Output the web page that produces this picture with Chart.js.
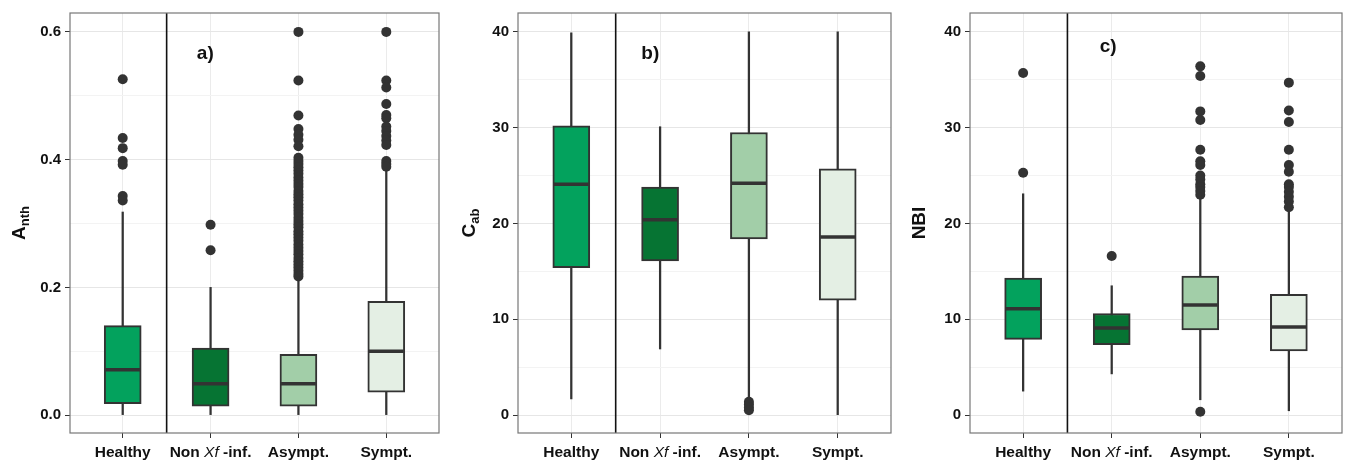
<!DOCTYPE html>
<html>
<head>
<meta charset="utf-8">
<script src="https://cdn.jsdelivr.net/npm/chart.js@4.4.1/dist/chart.umd.min.js"></script>
<style>
  body { margin: 0; background: #fff; width: 1346px; height: 460px; position: relative; overflow: hidden; }
  canvas { position: absolute; top: 0; }
</style>
</head>
<body>
<canvas id="cA" width="450" height="460" style="left:0px"></canvas>
<canvas id="cB" width="450" height="460" style="left:450px"></canvas>
<canvas id="cC" width="446" height="460" style="left:900px"></canvas>
<script>
// groups (x positions 1..4)
const categories = ['Healthy', 'Non Xf-inf.', 'Asympt.', 'Sympt.'];
const boxColors = ['#03a25d', '#067433', '#a2cea8', '#e4efe4'];

// a) Anthocyanins
const anthLow = [0, 0, 0, 0];
const anthQ1 = [0.018, 0.014, 0.014, 0.036];
const anthMedian = [0.071, 0.049, 0.049, 0.100];
const anthQ3 = [0.140, 0.105, 0.095, 0.178];
const anthHigh = [0.318, 0.200, 0.216, 0.384];
const anthOutliers = [
  [0.526, 0.434, 0.418, 0.398, 0.392, 0.343, 0.336],
  [0.298, 0.258],
  [0.600, 0.524, 0.469, 0.448, 0.439, 0.431, 0.421, 0.403, 0.398, 0.393, 0.388, 0.383,
   0.378, 0.372, 0.367, 0.362, 0.357, 0.351, 0.346, 0.341, 0.336, 0.330, 0.325, 0.320,
   0.315, 0.309, 0.304, 0.299, 0.294, 0.288, 0.283, 0.278, 0.273, 0.267, 0.262, 0.257,
   0.252, 0.246, 0.241, 0.236, 0.231, 0.226, 0.221, 0.217],
  [0.600, 0.524, 0.513, 0.487, 0.470, 0.465, 0.452, 0.445, 0.437, 0.430, 0.423, 0.398, 0.393, 0.389]
];
const anthTicks = [0, 0.1, 0.2, 0.3, 0.4, 0.5, 0.6];

// b) Chlorophyll
const cabLow = [1.7, 6.9, 1.8, 0];
const cabQ1 = [15.4, 16.1, 18.4, 12.0];
const cabMedian = [24.1, 20.4, 24.2, 18.6];
const cabQ3 = [30.2, 23.8, 29.5, 25.7];
const cabHigh = [39.9, 30.1, 40, 40];
const cabOutliers = [[], [], [1.4, 1.1, 0.8, 0.5], []];
const cabTicks = [0, 5, 10, 15, 20, 25, 30, 35, 40];

// c) NBI
const nbiLow = [2.5, 4.3, 1.6, 0.45];
const nbiQ1 = [7.9, 7.35, 8.9, 6.7];
const nbiMedian = [11.1, 9.1, 11.5, 9.2];
const nbiQ3 = [14.3, 10.6, 14.5, 12.6];
const nbiHigh = [23.1, 13.5, 23.2, 22.0];
const nbiOutliers = [
  [35.7, 25.3],
  [16.6],
  [36.4, 35.4, 31.7, 30.8, 27.7, 26.5, 26.1, 25.0, 24.6, 24.1, 23.8, 23.4, 23.0, 0.35],
  [34.7, 31.8, 30.6, 27.7, 26.1, 25.4, 24.1, 23.8, 23.3, 22.8, 22.3, 21.7]
];
const nbiTicks = [0, 5, 10, 15, 20, 25, 30, 35, 40];

const FONT = '"Liberation Sans", Arial, sans-serif';
const INK = '#333333';

// draws frame, separator, panel letter, y title and x labels
const panelDecor = {
  id: 'panelDecor',
  afterDraw(chart, args, opts) {
    const ctx = chart.ctx;
    const area = chart.chartArea;
    const xs = chart.scales.x, ys = chart.scales.y;
    ctx.save();
    // separator between healthy and the rest
    const sx = xs.getPixelForValue(1.5);
    ctx.strokeStyle = '#111';
    ctx.lineWidth = 1.6;
    ctx.beginPath();
    ctx.moveTo(sx, area.top);
    ctx.lineTo(sx, area.bottom);
    ctx.stroke();
    // frame
    ctx.strokeStyle = '#777';
    ctx.lineWidth = 1.2;
    ctx.strokeRect(area.left, area.top, area.right - area.left, area.bottom - area.top);
    // panel letter
    ctx.fillStyle = '#111';
    ctx.font = 'bold 19px ' + FONT;
    ctx.textAlign = 'center';
    ctx.textBaseline = 'middle';
    ctx.fillText(opts.letter, xs.getPixelForValue(opts.letterX), ys.getPixelForValue(opts.letterY));
    // x category labels
    const ly = area.bottom + 20;
    categories.forEach((c, i) => {
      const cx = xs.getPixelForValue(i + 1);
      const parts = c.includes('Xf')
        ? [['Non ', 'bold 15.5px '], ['Xf', 'italic 15.5px '], [' -inf.', 'bold 15.5px ']]
        : [[c, 'bold 15.5px ']];
      let total = 0;
      parts.forEach(p => { ctx.font = p[1] + FONT; total += ctx.measureText(p[0]).width; });
      let px = cx - total / 2;
      ctx.textAlign = 'left';
      parts.forEach(p => {
        ctx.font = p[1] + FONT;
        ctx.fillText(p[0], px, ly);
        px += ctx.measureText(p[0]).width;
      });
    });
    // y title with subscript
    ctx.translate(20, (area.top + area.bottom) / 2);
    ctx.rotate(-Math.PI / 2);
    ctx.font = 'bold 19px ' + FONT;
    const wMain = ctx.measureText(opts.title).width;
    ctx.font = 'bold 13px ' + FONT;
    const wSub = opts.sub ? ctx.measureText(opts.sub).width : 0;
    let tx = -(wMain + wSub) / 2;
    ctx.textAlign = 'left';
    ctx.font = 'bold 19px ' + FONT;
    ctx.fillText(opts.title, tx, 0);
    if (opts.sub) {
      ctx.font = 'bold 13px ' + FONT;
      ctx.fillText(opts.sub, tx + wMain, 5);
    }
    ctx.restore();
  }
};

function makePanel(id, cfg) {
  const xPos = categories.map((c, i) => i + 1);
  const outPts = [];
  cfg.outliers.forEach((arr, i) => arr.forEach(v => outPts.push({ x: i + 1, y: v })));
  const majorSet = cfg.major;

  new Chart(document.getElementById(id), {
    type: 'bar',
    data: {
      datasets: [
        {
          type: 'scatter', order: 0,
          data: xPos.map((x, i) => ({ x: x, y: cfg.median[i] })),
          pointStyle: 'line', pointRadius: 17.5, borderColor: INK, borderWidth: 3.5
        },
        {
          type: 'bar', order: 1, grouped: false,
          data: xPos.map((x, i) => ({ x: x, y: [cfg.q1[i], cfg.q3[i]] })),
          backgroundColor: boxColors, borderColor: INK, borderWidth: 2,
          borderSkipped: false, barThickness: 37
        },
        {
          type: 'bar', order: 2, grouped: false,
          data: xPos.map((x, i) => ({ x: x, y: [cfg.low[i], cfg.high[i]] })),
          backgroundColor: INK, borderWidth: 0, barThickness: 1.6
        },
        {
          type: 'scatter', order: 3,
          data: outPts,
          pointRadius: 5, backgroundColor: INK, borderWidth: 0
        }
      ]
    },
    options: {
      responsive: false,
      animation: false,
      events: [],
      layout: { autoPadding: false, padding: { left: 0, right: cfg.padRight, top: 11, bottom: 0 } },
      plugins: {
        legend: { display: false },
        tooltip: { enabled: false },
        panelDecor: { letter: cfg.letter, letterX: cfg.letterX, letterY: cfg.letterY, title: cfg.title, sub: cfg.sub }
      },
      scales: {
        x: {
          type: 'linear', min: 0.4, max: 4.6, offset: false,
          afterBuildTicks: s => { s.ticks = xPos.map(v => ({ value: v })); },
          afterFit: s => { s.height = 27; },
          ticks: { display: false },
          grid: { offset: false, color: '#ebebeb', lineWidth: 1, tickColor: INK, tickLength: 5 },
          border: { display: false }
        },
        y: {
          min: cfg.min, max: cfg.max,
          afterBuildTicks: s => { s.ticks = cfg.ticks.map(v => ({ value: v })); },
          afterFit: s => { s.width = cfg.yWidth; },
          ticks: {
            padding: 4, color: '#111',
            font: { family: FONT, size: 15, weight: 'bold' },
            callback: v => majorSet.includes(v) ? cfg.fmt(v) : ''
          },
          grid: {
            lineWidth: 1, tickLength: 5,
            color: c => majorSet.includes(c.tick.value) ? '#e6e6e6' : '#f3f3f3',
            tickColor: c => majorSet.includes(c.tick.value) ? INK : 'rgba(0,0,0,0)'
          },
          border: { display: false }
        }
      }
    },
    plugins: [panelDecor]
  });
}

makePanel('cA', {
  low: anthLow, q1: anthQ1, median: anthMedian, q3: anthQ3, high: anthHigh, outliers: anthOutliers,
  ticks: anthTicks, major: [0, 0.2, 0.4, 0.6], fmt: v => v.toFixed(1),
  min: -0.028, max: 0.6296, yWidth: 70, padRight: 11,
  letter: 'a)', letterX: 1.94, letterY: 0.566, title: 'A', sub: 'nth'
});
makePanel('cB', {
  low: cabLow, q1: cabQ1, median: cabMedian, q3: cabQ3, high: cabHigh, outliers: cabOutliers,
  ticks: cabTicks, major: [0, 10, 20, 30, 40], fmt: v => String(v),
  min: -1.87, max: 41.97, yWidth: 68, padRight: 9,
  letter: 'b)', letterX: 1.89, letterY: 37.7, title: 'C', sub: 'ab'
});
makePanel('cC', {
  low: nbiLow, q1: nbiQ1, median: nbiMedian, q3: nbiQ3, high: nbiHigh, outliers: nbiOutliers,
  ticks: nbiTicks, major: [0, 10, 20, 30, 40], fmt: v => String(v),
  min: -1.87, max: 41.97, yWidth: 70, padRight: 4,
  letter: 'c)', letterX: 1.96, letterY: 38.4, title: 'NBI', sub: ''
});
</script>
</body>
</html>
